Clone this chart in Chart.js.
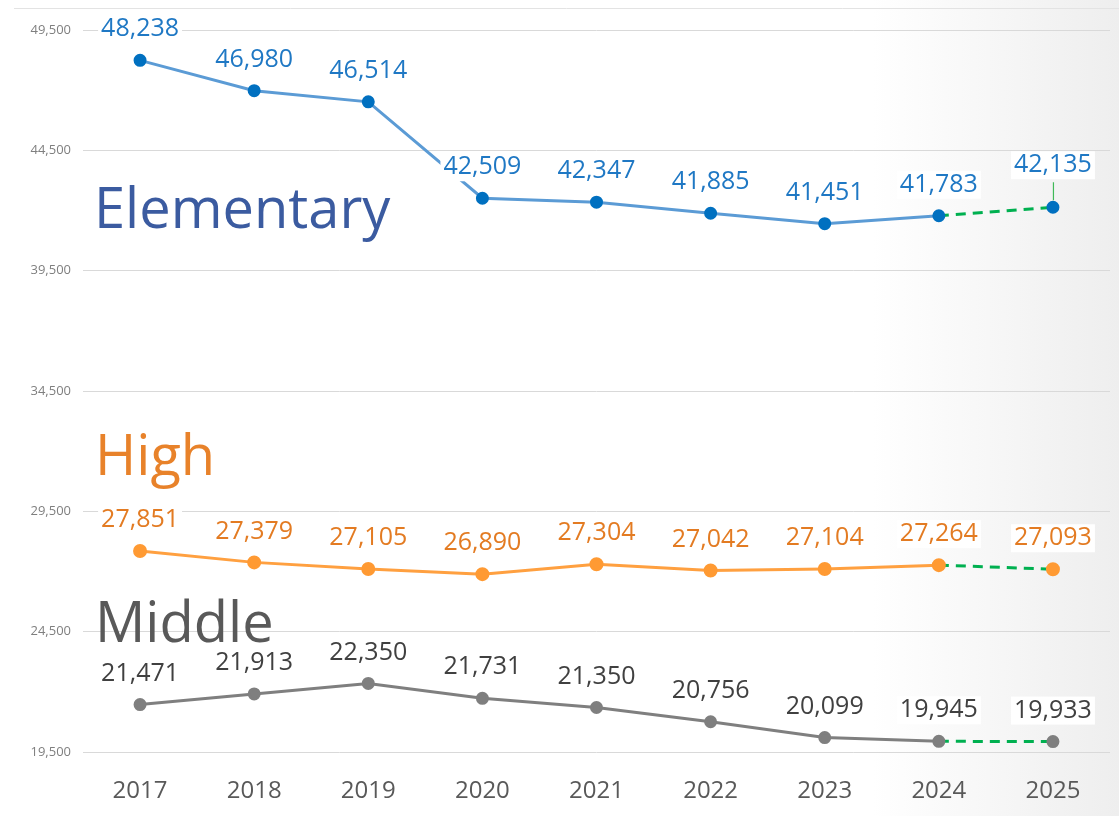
<!DOCTYPE html>
<html>
<head>
<meta charset="utf-8">
<script src="https://cdn.jsdelivr.net/npm/chart.js@4/dist/chart.umd.min.js"></script>
<style>
  html, body { margin: 0; padding: 0; }
  body {
    width: 1119px; height: 816px; overflow: hidden;
    background: linear-gradient(to right, #ffffff 0%, #ffffff 78%, #eeeeee 100%);
  }
  #wrap { position: relative; width: 1119px; height: 816px; }
</style>
</head>
<body>
<div id="wrap"><canvas id="chart" width="1119" height="816"></canvas></div>
<script>
// ── data ──
const years = ['2017', '2018', '2019', '2020', '2021', '2022', '2023', '2024', '2025'];
const elementary = [48238, 46980, 46514, 42509, 42347, 41885, 41451, 41783, 42135];
const high = [27851, 27379, 27105, 26890, 27304, 27042, 27104, 27264, 27093];
const middle = [21471, 21913, 22350, 21731, 21350, 20756, 20099, 19945, 19933];
const yTicks = [19500, 24500, 29500, 34500, 39500, 44500, 49500];
const seriesNames = ['Elementary', 'High', 'Middle'];

const FONT = "'Open Sans', sans-serif";
const GREEN = '#00b050';
const LAST = years.length - 1;

const fmt = v => v.toLocaleString('en-US');

// dashed green projection for the last segment
const projSegment = {
  borderColor: c => c.p1DataIndex === LAST ? GREEN : undefined,
  borderDash: c => c.p1DataIndex === LAST ? [10, 7] : undefined
};

// value labels with white fill, plus the big series names
const labelPlugin = {
  id: 'labels',
  beforeDraw(chart) {
    const ctx = chart.ctx;
    ctx.save();
    ctx.strokeStyle = '#e3e3e3';
    ctx.lineWidth = 1;
    ctx.beginPath();
    ctx.moveTo(14, 8.5);
    ctx.lineTo(chart.width, 8.5);
    ctx.stroke();
    ctx.restore();
  },
  afterDatasetsDraw(chart) {
    const ctx = chart.ctx;
    ctx.save();
    ctx.font = `25px ${FONT}`;
    ctx.textAlign = 'center';
    ctx.textBaseline = 'middle';
    chart.data.datasets.forEach((ds, i) => {
      const meta = chart.getDatasetMeta(i);
      meta.data.forEach((pt, j) => {
        const txt = fmt(ds.data[j]);
        const lead = (i === 0 && j === LAST);
        const y = pt.y - (lead ? 42 : 31);
        const w = ctx.measureText(txt).width;
        ctx.fillStyle = '#ffffff';
        ctx.fillRect(pt.x - w / 2 - 3, y - 14, w + 6, 28);
        ctx.fillStyle = ds.labelColor;
        ctx.fillText(txt, pt.x, y);
        if (lead) {
          ctx.strokeStyle = '#3fb957';
          ctx.lineWidth = 1.2;
          ctx.beginPath();
          ctx.moveTo(pt.x + 0.5, pt.y - 25);
          ctx.lineTo(pt.x + 0.5, pt.y - 7);
          ctx.stroke();
        }
      });
    });

    // series names
    ctx.textAlign = 'left';
    ctx.textBaseline = 'alphabetic';
    ctx.font = `56px ${FONT}`;
    ctx.fillStyle = '#3b5ba0';
    ctx.fillText(seriesNames[0], 94, 228);
    ctx.fillStyle = '#e8822a';
    ctx.fillText(seriesNames[1], 95, 475);
    ctx.fillStyle = '#595959';
    ctx.fillText(seriesNames[2], 95, 642);
    ctx.restore();
  }
};

new Chart(document.getElementById('chart'), {
  type: 'line',
  data: {
    labels: years,
    datasets: [
      {
        label: seriesNames[0], data: elementary, labelColor: '#1f78c4',
        borderColor: '#5b9bd5', backgroundColor: '#0070c0',
        pointBackgroundColor: '#0070c0', pointBorderColor: '#0070c0',
        borderWidth: 3, pointRadius: 5, tension: 0, segment: projSegment
      },
      {
        label: seriesNames[1], data: high, labelColor: '#e37b22',
        borderColor: '#ffa040', backgroundColor: '#ff9a33',
        pointBackgroundColor: '#ff9a33', pointBorderColor: '#ff9a33',
        borderWidth: 3, pointRadius: 5.5, tension: 0, segment: projSegment
      },
      {
        label: seriesNames[2], data: middle, labelColor: '#404040',
        borderColor: '#7f7f7f', backgroundColor: '#7f7f7f',
        pointBackgroundColor: '#7f7f7f', pointBorderColor: '#7f7f7f',
        borderWidth: 3, pointRadius: 5, tension: 0, segment: projSegment
      }
    ]
  },
  options: {
    responsive: false,
    animation: false,
    events: [],
    layout: { padding: { top: 30, right: 9, bottom: 0, left: 0 } },
    plugins: { legend: { display: false }, tooltip: { enabled: false } },
    scales: {
      x: {
        offset: true,
        grid: { display: false },
        border: { display: false },
        ticks: { color: '#595959', font: { family: FONT, size: 24 }, padding: 17 },
        afterFit(axis) { axis.height = 64; }
      },
      y: {
        min: yTicks[0],
        max: yTicks[yTicks.length - 1],
        afterBuildTicks(axis) { axis.ticks = yTicks.map(v => ({ value: v })); },
        grid: { color: '#d9d9d9', lineWidth: 1, drawTicks: false },
        border: { display: false },
        ticks: {
          color: '#7f7f7f', font: { family: FONT, size: 13 }, padding: 12,
          callback: v => fmt(v)
        },
        afterFit(axis) { axis.width = 83; }
      }
    }
  },
  plugins: [labelPlugin]
});
</script>
</body>
</html>
